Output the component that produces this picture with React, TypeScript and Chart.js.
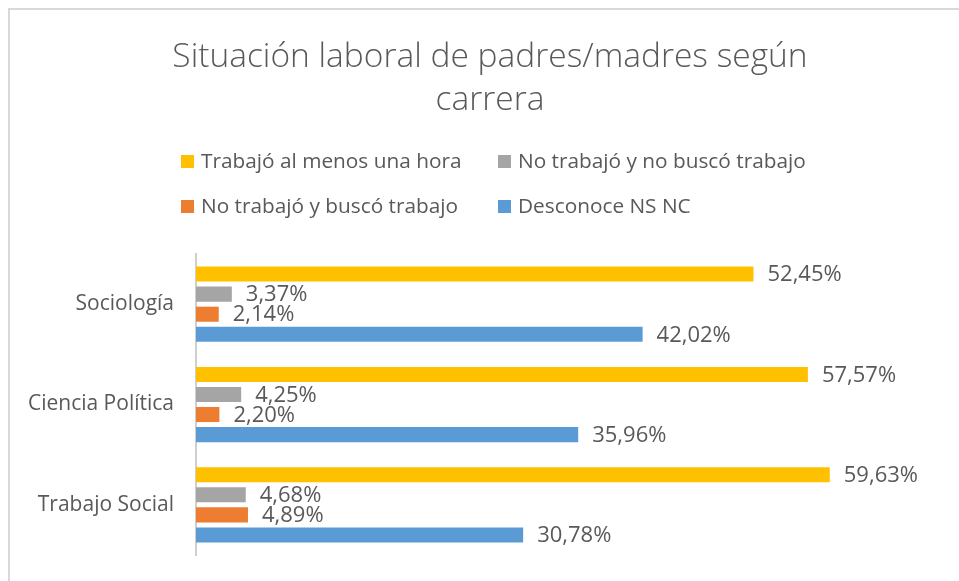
import { useEffect, useRef } from 'react';
import { Chart, registerables } from 'chart.js';

Chart.register(...registerables);

const titleLines = ['Situación laboral de padres/madres según', 'carrera'];
const categories = ['Sociología', 'Ciencia Política', 'Trabajo Social'];
const seriesNames = [
  'Trabajó al menos una hora',
  'No trabajó y no buscó trabajo',
  'No trabajó y buscó trabajo',
  'Desconoce NS NC',
];
const trabajoUnaHora = [52.45, 57.57, 59.63];
const noTrabajoNoBusco = [3.37, 4.25, 4.68];
const noTrabajoBusco = [2.14, 2.2, 4.89];
const desconoce = [42.02, 35.96, 30.78];
const seriesColors = ['#FFC000', '#A5A5A5', '#ED7D31', '#5B9BD5'];

const FONT = "'Open Sans', 'DejaVu Sans', sans-serif";
const TEXT = '#595959';

const framePlugin = {
  id: 'frame',
  beforeDraw(chart: any) {
    const ctx = chart.ctx;
    ctx.save();
    ctx.fillStyle = '#ffffff';
    ctx.fillRect(0, 0, chart.width, chart.height);
    ctx.strokeStyle = '#D9D9D9';
    ctx.lineWidth = 2;
    ctx.beginPath();
    ctx.moveTo(9, chart.height);
    ctx.lineTo(9, 9);
    ctx.lineTo(chart.width, 9);
    ctx.stroke();
    ctx.restore();
  },
};

const titleLegendPlugin = {
  id: 'titleLegend',
  afterDraw(chart: any) {
    const ctx = chart.ctx;
    ctx.save();
    ctx.fillStyle = TEXT;
    ctx.textBaseline = 'middle';
    ctx.textAlign = 'center';
    ctx.font = `300 33.5px ${FONT}`;
    const cx = 490;
    titleLines.forEach((line, i) => ctx.fillText(line, cx, 57 + i * 43));

    const cols = [181, 498];
    const rows = [155, 200];
    ctx.font = `20.8px ${FONT}`;
    ctx.textAlign = 'left';
    chart.data.datasets.forEach((ds: any, i: number) => {
      const x = cols[i % 2];
      const y = rows[Math.floor(i / 2)];
      ctx.fillStyle = ds.backgroundColor;
      ctx.fillRect(x, y, 13, 13);
      ctx.fillStyle = TEXT;
      ctx.fillText(ds.label, x + 20, y + 7);
    });
    ctx.restore();
  },
};

const dataLabelPlugin = {
  id: 'dataLabels',
  afterDatasetsDraw(chart: any) {
    const ctx = chart.ctx;
    ctx.save();
    ctx.font = `22px ${FONT}`;
    ctx.fillStyle = TEXT;
    ctx.textBaseline = 'middle';
    ctx.textAlign = 'left';
    chart.data.datasets.forEach((ds: any, di: number) => {
      const meta = chart.getDatasetMeta(di);
      meta.data.forEach((bar: any, i: number) => {
        const v = ds.data[i] as number;
        const txt = v.toFixed(2).replace('.', ',') + '%';
        ctx.fillText(txt, bar.x + 14, bar.y + 1);
      });
    });
    ctx.restore();
  },
};

export default function App() {
  const ref = useRef<HTMLCanvasElement>(null);

  useEffect(() => {
    if (!ref.current) return;
    const seriesData = [trabajoUnaHora, noTrabajoNoBusco, noTrabajoBusco, desconoce];
    const chart = new Chart(ref.current, {
      type: 'bar',
      data: {
        labels: categories,
        datasets: seriesNames.map((name, i) => ({
          label: name,
          data: seriesData[i],
          backgroundColor: seriesColors[i],
          borderWidth: 0,
          categoryPercentage: 0.8,
          barPercentage: 0.75,
        })),
      },
      options: {
        indexAxis: 'y',
        animation: false,
        responsive: false,
        devicePixelRatio: 1,
        layout: { padding: { left: 0, right: 19, top: 254, bottom: 26 } },
        plugins: {
          legend: { display: false },
          tooltip: { enabled: false },
          title: { display: false },
        },
        scales: {
          x: { display: false, min: 0, max: 70 },
          y: {
            grid: { display: false, drawTicks: false },
            border: { display: true, color: '#CFCFCF', width: 2 },
            ticks: { color: TEXT, font: { family: FONT, size: 21 }, padding: 22 },
            afterFit(scale: any) {
              scale.width = 196;
              scale.paddingTop = 0;
              scale.paddingBottom = 0;
            },
          },
        },
      },
      plugins: [framePlugin, titleLegendPlugin, dataLabelPlugin],
    });
    return () => chart.destroy();
  }, []);

  return (
    <div style={{ position: 'fixed', left: 0, top: 0, width: 959, height: 581, background: '#fff' }}>
      <canvas ref={ref} width={959} height={581} />
    </div>
  );
}
